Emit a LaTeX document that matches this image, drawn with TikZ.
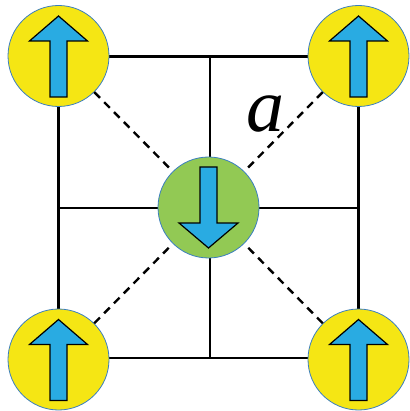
\documentclass[tikz,border=0pt]{standalone}
\usepackage{fontspec}
\setmainfont{Liberation Serif}
\definecolor{spinyellow}{HTML}{F5E614}
\definecolor{spingreen}{HTML}{92C954}
\definecolor{spinblue}{HTML}{29ABE2}
\definecolor{rimblue}{HTML}{3A7EC0}
\tikzset{
  site/.style={circle, draw=rimblue, line width=0.8pt, minimum size=101pt, inner sep=0pt},
  upsite/.style={site, fill=spinyellow},
  downsite/.style={site, fill=spingreen},
  bond/.style={line width=2.6pt, black},
  diag/.style={line width=2.4pt, black, dash pattern=on 8pt off 6pt},
  spinarrow/.style={fill=spinblue, draw=black, line width=1.2pt, line join=miter}
}
\newcommand{\uparrowat}[1]{%
  \draw[spinarrow, shift={(#1)}] (0,-40) -- (29,-15) -- (8.5,-15) -- (8.5,41) -- (-8.5,41) -- (-8.5,-15) -- (-29,-15) -- cycle;}
\newcommand{\downarrowat}[1]{%
  \draw[spinarrow, shift={(#1)}] (0,40.5) -- (29.5,15.5) -- (8.5,15.5) -- (8.5,-40.5) -- (-8.5,-40.5) -- (-8.5,15.5) -- (-29.5,15.5) -- cycle;}
\begin{document}
\begin{tikzpicture}[x=1pt,y=-1pt]
\useasboundingbox (0,0) rectangle (409,411);
% grid coordinates
\coordinate (tl) at (58.5,56.5);
\coordinate (tm) at (210,56.5);
\coordinate (tr) at (358.5,56.5);
\coordinate (ml) at (58.5,208);
\coordinate (mr) at (358.5,208);
\coordinate (bl) at (58.5,358);
\coordinate (bm) at (210,358);
\coordinate (br) at (358.5,358);
% bonds
\draw[bond] (tl) -- (tr) -- (br) -- (bl) -- cycle;
\draw[bond] (tm) -- (bm);
\draw[bond] (ml) -- (mr);
% sites
\node[upsite] (A) at (58.5,56) {};
\node[upsite] (B) at (358.5,56) {};
\node[upsite] (C) at (58.5,359.5) {};
\node[upsite] (D) at (358.5,359.5) {};
\node[downsite] (O) at (208.5,207.5) {};
% diagonals
\draw[diag] (A) -- (O);
\draw[diag] (B) -- (O);
\draw[diag] (C) -- (O);
\draw[diag] (D) -- (O);
% arrows
\uparrowat{A}
\uparrowat{B}
\uparrowat{C}
\uparrowat{D}
\downarrowat{O}
% label
\node[inner sep=0pt, anchor=base] (lbl) at (265,132) {\fontsize{76}{76}\selectfont\itshape a};
\end{tikzpicture}
\end{document}
